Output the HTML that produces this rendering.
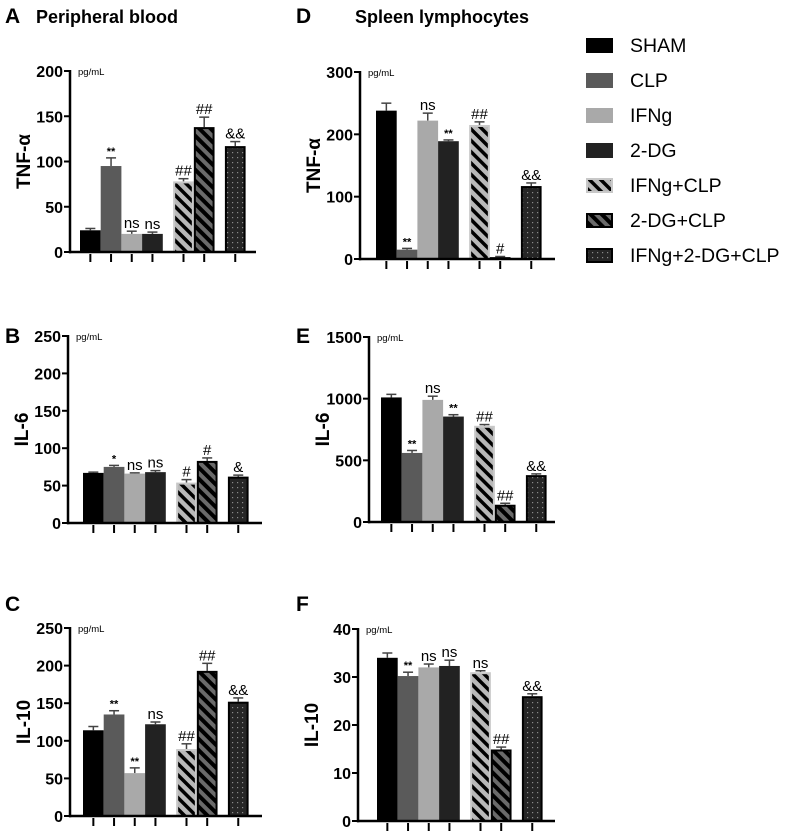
<!DOCTYPE html>
<html><head><meta charset="utf-8"><style>
html,body{margin:0;padding:0;background:#fff}
svg{display:block;font-family:"Liberation Sans",Arial,sans-serif}
</style></head><body>
<svg id="fig" width="797" height="831" viewBox="0 0 797 831" xmlns="http://www.w3.org/2000/svg">
<defs>
<pattern id="hatchLight" patternUnits="userSpaceOnUse" width="8" height="8" patternTransform="rotate(-45)">
<rect width="8" height="8" fill="#b8b8b8"/><rect x="0" y="0" width="3.5" height="8" fill="#000"/></pattern>
<pattern id="hatchDark" patternUnits="userSpaceOnUse" width="8" height="8" patternTransform="rotate(-45)">
<rect width="8" height="8" fill="#6a6a6a"/><rect x="0" y="0" width="4" height="8" fill="#000"/></pattern>
<pattern id="dots" patternUnits="userSpaceOnUse" width="5" height="5">
<rect width="5" height="5" fill="#262626"/><rect x="2" y="2" width="1.2" height="1.2" fill="#8a8a8a"/></pattern>
</defs>
<g id="root"></g>
</svg>
<script>
const groups = ["SHAM","CLP","IFNg","2-DG","IFNg+CLP","2-DG+CLP","IFNg+2-DG+CLP"];
const fills = ["#000","#5a5a5a","#a9a9a9","#222","url(#hatchLight)","url(#hatchDark)","url(#dots)"];
const strokes = ["none","none","none","none","#c8c8c8","#000","#000"];

const aValues = [24,95,20,20,78,138,117];
const aErrors = [2,9,3,2,3,11,5];
const aMarks = ["","**","ns","ns","##","##","&&"];
const aTicks = [0,50,100,150,200];

const bValues = [67,75,66,68,54,83,62];
const bErrors = [1,2,1,2,4,4,2];
const bMarks = ["","*","ns","ns","#","#","&"];
const bTicks = [0,50,100,150,200,250];

const cValues = [114,135,57,122,89,193,152];
const cErrors = [5,5,7,3,7,10,5];
const cMarks = ["","**","**","ns","##","##","&&"];
const cTicks = [0,50,100,150,200,250];

const dValues = [238,15,222,189,215,3,117];
const dErrors = [12,2,12,2,5,1,5];
const dMarks = ["","**","ns","**","##","#","&&"];
const dTicks = [0,100,200,300];

const eValues = [1010,560,990,855,780,140,380];
const eErrors = [25,20,30,15,10,12,10];
const eMarks = ["","**","ns","**","##","##","&&"];
const eTicks = [0,500,1000,1500];

const fValues = [34,30.2,32,32.3,31,14.9,26];
const fErrors = [1,0.8,0.7,1.2,0.3,0.5,0.5];
const fMarks = ["","**","ns","ns","ns","##","&&"];
const fTicks = [0,10,20,30,40];

const NS="http://www.w3.org/2000/svg";
const root=document.getElementById('root');
function mk(tag,attrs,parent){const e=document.createElementNS(NS,tag);for(const k in attrs)e.setAttribute(k,attrs[k]);(parent||root).appendChild(e);return e;}
function txt(s,attrs,parent){const e=mk('text',attrs,parent);e.textContent=s;return e;}

const slot=[0,1,2,3,4.5,5.5,7];
function panel(id,letter,lx,ly,ylabel,ax,y0,yTop,barX,axEnd,ticks,values,errors,marks){
  const g=mk('g',{});
  
  
  const max=ticks[ticks.length-1];
  const ys=v=>y0-(v/max)*(y0-yTop);
  const bw=20.7;
  const xs=i=>barX+slot[i]*bw;
  const L=txt(letter,{x:lx,y:ly,'font-size':21,'font-weight':'bold'},g);
  
  
  const yl=txt(ylabel,{x:0,y:0,'font-size':19,'font-weight':'bold','text-anchor':'middle',transform:`translate(${ax-40},${(y0+yTop)/2}) rotate(-90)`},g);
  
  
  const u=txt('pg/mL',{x:ax+8,y:yTop+4,'font-size':9.5},g);
  
  
  values.forEach((v,i)=>{
    const x=xs(i),y=ys(v);
    const e=ys(v+errors[i]);
    const ln=mk('line',{x1:x+bw/2,x2:x+bw/2,y1:y,y2:e,stroke:'#444','stroke-width':1.5},g);
    
    
    mk('line',{x1:x+bw/2-5,x2:x+bw/2+5,y1:e,y2:e,stroke:'#444','stroke-width':1.5},g);
    const sw=strokes[i]==='none'?0:2;
    const r=mk('rect',{x:x+sw/2,y:y+sw/2,width:bw-sw,height:Math.max(0,y0-y-sw/2),fill:fills[i],stroke:strokes[i],'stroke-width':sw},g);
    
    
    if(marks[i]){
      const star=marks[i].indexOf('*')>=0;
      const m=txt(marks[i],{x:x+bw/2,y:e-3,'font-size':star?11:15,'text-anchor':'middle','font-weight':star?'bold':'normal'},g);
      
      
    }
    const t=mk('line',{x1:x+bw/2,x2:x+bw/2,y1:y0+2,y2:y0+10,stroke:'#000','stroke-width':2},g);
    
    
  });
  const ya=mk('line',{x1:ax,x2:ax,y1:yTop-1,y2:y0+1.2,stroke:'#000','stroke-width':2.5},g);
  
  
  const xa=mk('line',{x1:ax-1,x2:axEnd,y1:y0,y2:y0,stroke:'#000','stroke-width':2.5},g);
  
  
  ticks.forEach(v=>{
    const y=ys(v);
    mk('line',{x1:ax-6,x2:ax,y1:y,y2:y,stroke:'#000','stroke-width':2},g);
    const tl=txt(String(v),{x:ax-7,y:y+6,'font-size':16,'font-weight':'bold','text-anchor':'end'},g);
    
    
  });
}
panel('a','A',5,23,'TNF-α',70,252,71,80,256,aTicks,aValues,aErrors,aMarks);
panel('b','B',5,343,'IL-6',68,523,336,83,262,bTicks,bValues,bErrors,bMarks);
panel('c','C',5,611,'IL-10',70,816,628,83,262,cTicks,cValues,cErrors,cMarks);
panel('d','D',296,23,'TNF-α',360,259,72,376,555,dTicks,dValues,dErrors,dMarks);
panel('e','E',296,343,'IL-6',369,522,337,381,555,eTicks,eValues,eErrors,eMarks);
panel('f','F',296,611,'IL-10',358,821,629,377,555,fTicks,fValues,fErrors,fMarks);

const t1=txt('Peripheral blood',{x:36,y:23,'font-size':18,'font-weight':'bold'});


const t2=txt('Spleen lymphocytes',{x:355,y:23,'font-size':18,'font-weight':'bold'});



const lg=mk('g',{});


groups.forEach((n,i)=>{
  const cy=45+35*i;
  const sw=i>=4?2:0;
  const r=mk('rect',{x:586+sw/2,y:cy-7+sw/2,width:27-sw,height:15-sw,fill:fills[i],stroke:strokes[i]==='none'?'none':(i===4?'#c8c8c8':'#000'),'stroke-width':sw},lg);
  
  
  const t=txt(n,{x:630,y:cy+7,'font-size':19.5},lg);
  
  
});
</script>
</body></html>
